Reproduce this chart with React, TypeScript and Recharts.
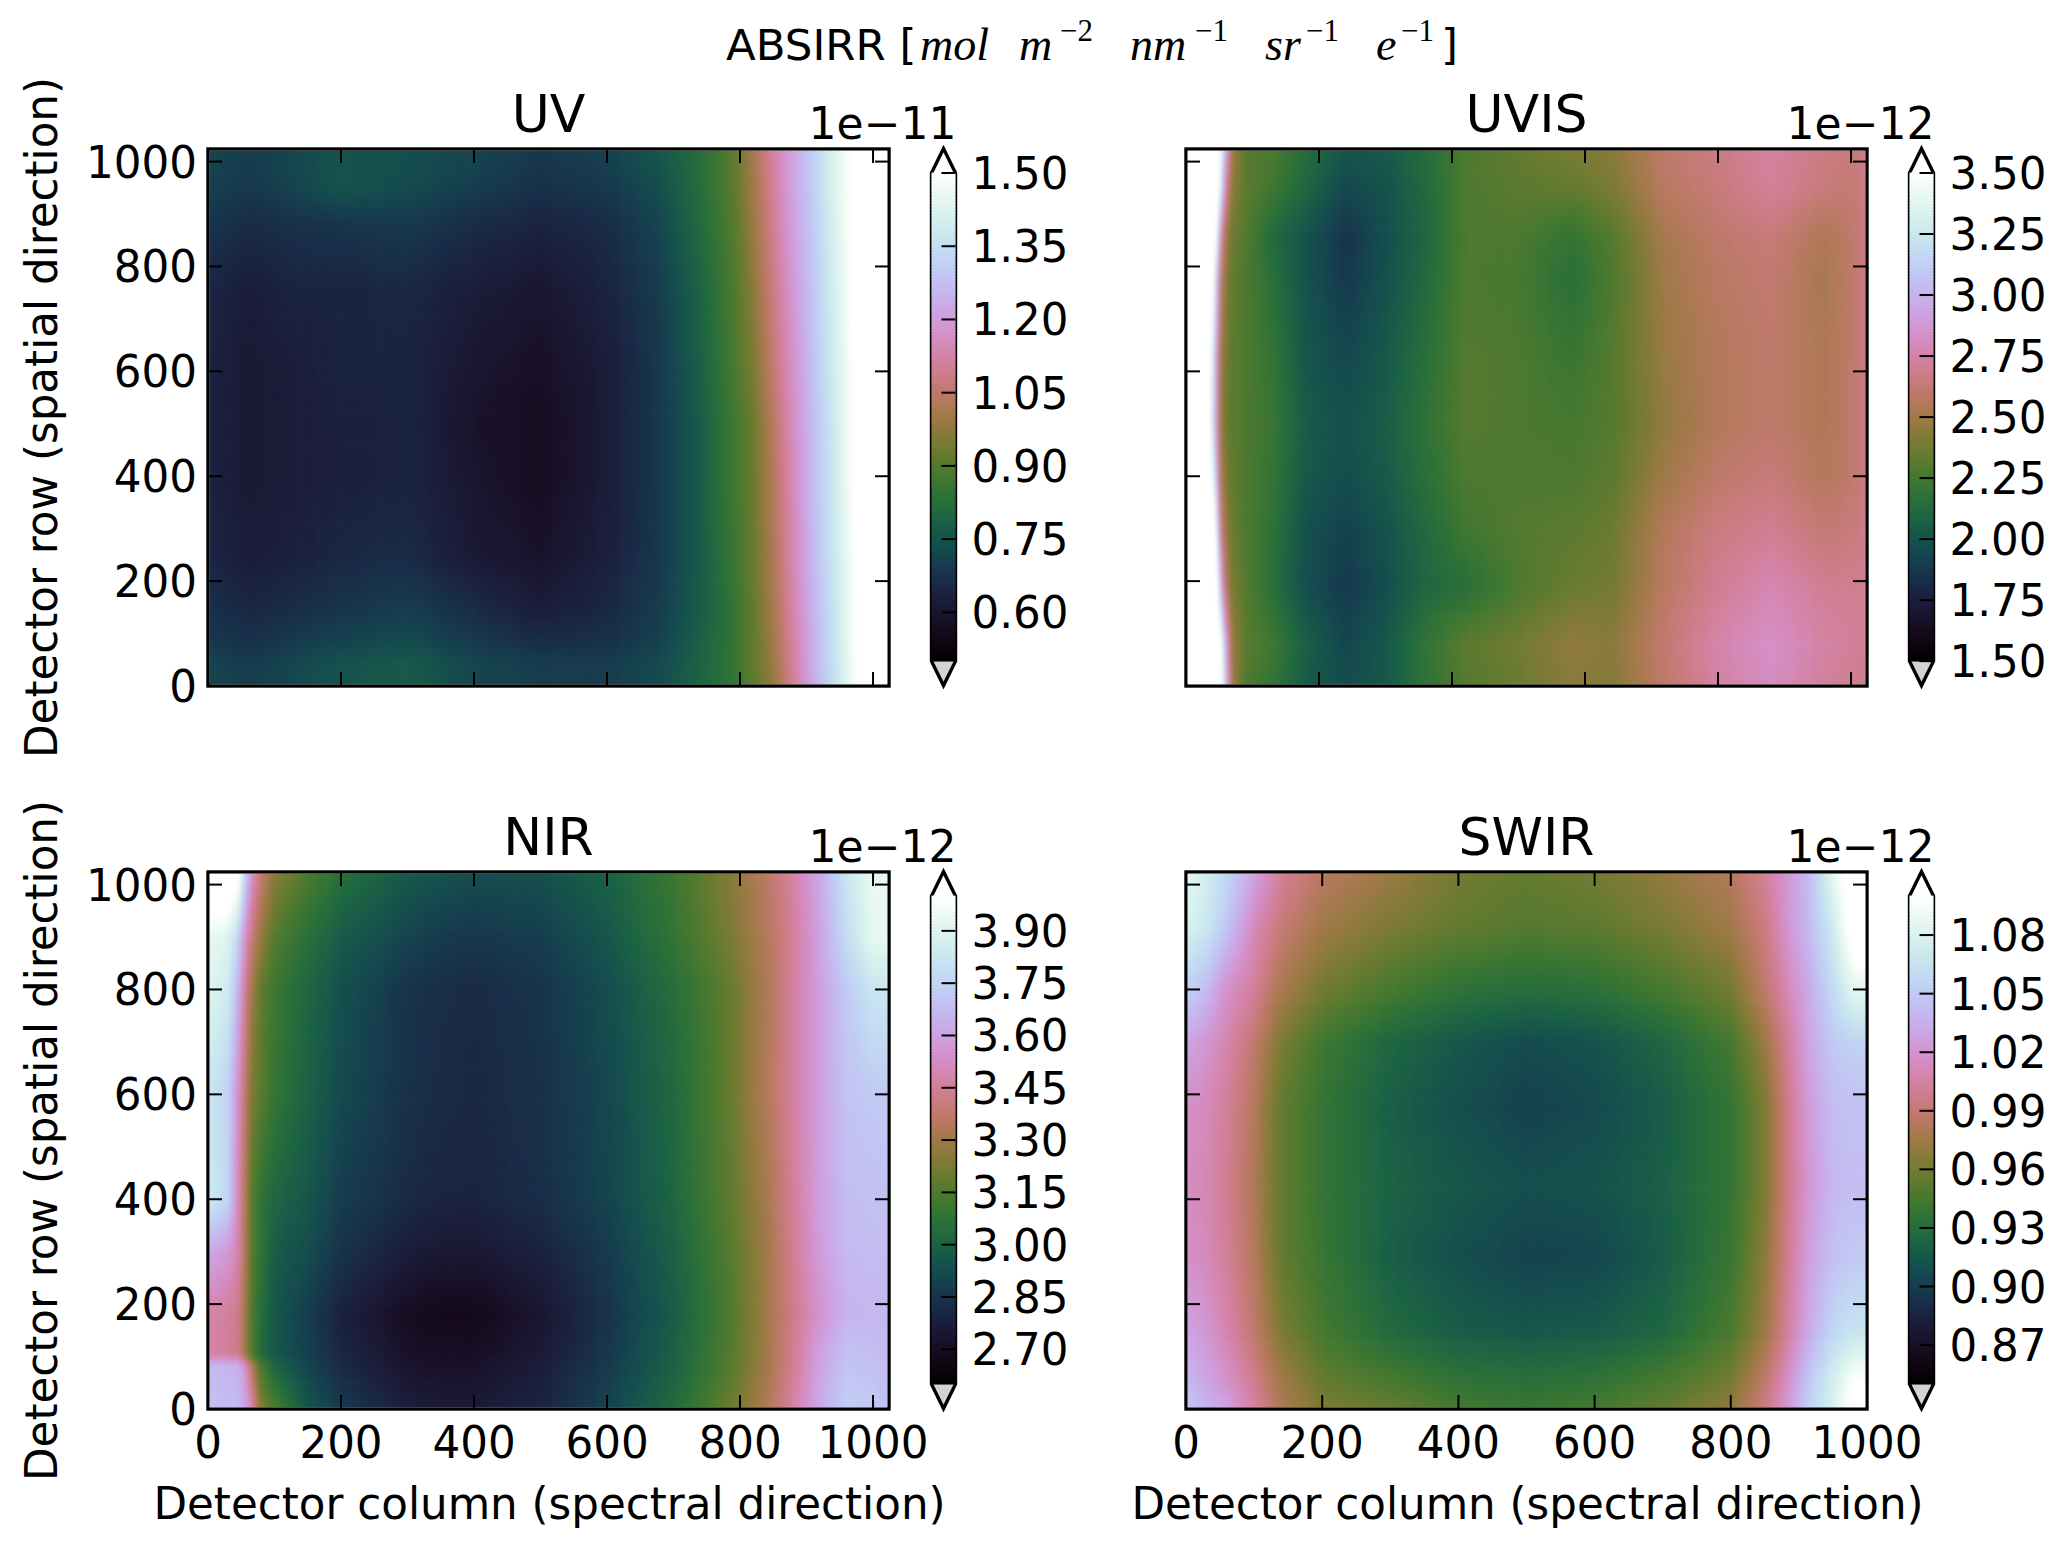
import React from 'react';
import { ScatterChart, Scatter, XAxis, YAxis, ReferenceArea } from 'recharts';

// ---------- data (values x 10^exponent) ----------
const uvColumns = [0, 60, 120, 200, 300, 400, 500, 600, 680, 740, 790, 820, 850, 880, 910, 940, 980, 1024];
const uvRows = [0, 40, 90, 150, 250, 400, 500, 600, 750, 880, 950, 1024];
const uvValues = [
  [.72, .70, .72, .75, .77, .72, .70, .70, .73, .79, .85, .91, .98, 1.10, 1.23, 1.35, 1.52, 1.70],
  [.72, .70, .72, .75, .77, .72, .70, .70, .73, .79, .85, .92, .99, 1.11, 1.24, 1.35, 1.52, 1.70],
  [.69, .67, .69, .71, .73, .69, .66, .67, .71, .78, .85, .92, 1.00, 1.12, 1.24, 1.36, 1.52, 1.70],
  [.67, .65, .66, .68, .70, .66, .62, .65, .70, .77, .85, .92, 1.01, 1.13, 1.25, 1.36, 1.52, 1.70],
  [.65, .62, .63, .65, .66, .61, .59, .63, .69, .77, .86, .93, 1.02, 1.14, 1.26, 1.37, 1.53, 1.70],
  [.64, .61, .62, .63, .64, .60, .57, .62, .69, .77, .87, .93, 1.03, 1.15, 1.27, 1.38, 1.54, 1.70],
  [.64, .61, .62, .63, .64, .59, .57, .62, .69, .77, .87, .93, 1.04, 1.16, 1.27, 1.38, 1.54, 1.70],
  [.64, .61, .62, .64, .64, .60, .58, .62, .69, .78, .88, .95, 1.06, 1.17, 1.28, 1.39, 1.54, 1.70],
  [.65, .62, .64, .64, .65, .62, .60, .64, .70, .79, .89, .97, 1.08, 1.19, 1.29, 1.40, 1.54, 1.70],
  [.68, .66, .67, .68, .69, .66, .64, .66, .72, .81, .90, .99, 1.10, 1.21, 1.30, 1.41, 1.54, 1.68],
  [.71, .69, .71, .75, .73, .70, .67, .69, .74, .82, .91, 1.00, 1.11, 1.22, 1.31, 1.42, 1.54, 1.66],
  [.72, .70, .72, .75, .74, .72, .69, .71, .76, .82, .91, 1.01, 1.12, 1.22, 1.31, 1.42, 1.54, 1.65],
];
const uvTicks = [0.6, 0.75, 0.9, 1.05, 1.2, 1.35, 1.5];

const uvisColumns = [0, 36, 44, 52, 61, 70, 90, 130, 180, 240, 300, 360, 420, 500, 580, 640, 720, 800, 880, 960, 1000, 1024];
const uvisRows = [0, 80, 190, 300, 400, 500, 620, 780, 860, 950, 1024];
const uvisValues = [
  [4.5, 4.5, 4.5, 3.7, 3.0, 2.5, 2.28, 2.2, 2.04, 1.97, 2.02, 2.18, 2.3, 2.36, 2.44, 2.42, 2.6, 2.74, 2.82, 2.72, 2.7, 2.68],
  [4.5, 4.5, 4.5, 3.6, 2.9, 2.48, 2.32, 2.24, 2.06, 1.94, 2.02, 2.2, 2.32, 2.38, 2.46, 2.44, 2.62, 2.76, 2.84, 2.74, 2.72, 2.7],
  [4.5, 4.5, 4.1, 3.0, 2.56, 2.4, 2.3, 2.16, 1.98, 1.88, 1.98, 2.1, 2.16, 2.28, 2.36, 2.38, 2.58, 2.7, 2.78, 2.7, 2.7, 2.7],
  [4.5, 4.1, 3.6, 2.7, 2.46, 2.36, 2.28, 2.18, 1.99, 1.92, 2.0, 2.12, 2.24, 2.3, 2.32, 2.36, 2.56, 2.66, 2.7, 2.62, 2.64, 2.68],
  [4.5, 3.7, 3.2, 2.56, 2.4, 2.34, 2.28, 2.2, 2.03, 1.97, 2.04, 2.16, 2.28, 2.28, 2.28, 2.32, 2.5, 2.6, 2.64, 2.56, 2.6, 2.66],
  [4.5, 3.54, 3.0, 2.5, 2.36, 2.32, 2.28, 2.22, 2.04, 1.99, 2.05, 2.18, 2.3, 2.28, 2.26, 2.3, 2.46, 2.56, 2.6, 2.54, 2.6, 2.66],
  [4.5, 3.6, 3.04, 2.52, 2.38, 2.32, 2.28, 2.2, 2.02, 1.95, 2.03, 2.16, 2.3, 2.28, 2.22, 2.3, 2.48, 2.56, 2.6, 2.54, 2.6, 2.66],
  [4.5, 4.0, 3.3, 2.64, 2.42, 2.34, 2.28, 2.16, 2.0, 1.88, 1.99, 2.12, 2.28, 2.26, 2.16, 2.28, 2.5, 2.58, 2.62, 2.52, 2.6, 2.66],
  [4.5, 4.3, 3.7, 2.84, 2.48, 2.36, 2.3, 2.12, 2.0, 1.86, 1.98, 2.1, 2.28, 2.28, 2.2, 2.3, 2.52, 2.6, 2.64, 2.54, 2.6, 2.66],
  [4.5, 4.5, 4.3, 3.3, 2.7, 2.44, 2.32, 2.24, 2.1, 1.95, 2.0, 2.12, 2.28, 2.32, 2.34, 2.4, 2.58, 2.64, 2.72, 2.64, 2.62, 2.68],
  [4.5, 4.5, 4.5, 3.5, 2.9, 2.5, 2.3, 2.28, 2.14, 2.01, 2.03, 2.14, 2.28, 2.34, 2.4, 2.44, 2.6, 2.66, 2.74, 2.66, 2.64, 2.68],
];
const uvisTicks = [1.5, 1.75, 2.0, 2.25, 2.5, 2.75, 3.0, 3.25, 3.5];

const nirColumns = [0, 30, 45, 56, 66, 78, 100, 150, 200, 300, 350, 400, 500, 600, 700, 780, 840, 880, 920, 960, 1000, 1024];
const nirRows = [0, 85, 105, 180, 300, 400, 600, 800, 900, 1024];
const nirValues = [
  [3.69, 3.68, 3.68, 3.62, 3.51, 3.26, 3.15, 2.96, 2.87, 2.78, 2.76, 2.76, 2.80, 2.90, 3.04, 3.19, 3.33, 3.47, 3.63, 3.74, 3.72, 3.69],
  [3.68, 3.65, 3.65, 3.54, 3.34, 3.16, 3.01, 2.90, 2.82, 2.73, 2.72, 2.72, 2.77, 2.87, 3.00, 3.15, 3.30, 3.44, 3.60, 3.70, 3.69, 3.68],
  [3.48, 3.45, 3.43, 3.30, 3.15, 3.05, 2.96, 2.89, 2.81, 2.72, 2.71, 2.71, 2.76, 2.86, 3.00, 3.15, 3.30, 3.44, 3.60, 3.70, 3.68, 3.68],
  [3.48, 3.45, 3.43, 3.30, 3.15, 3.06, 2.96, 2.88, 2.79, 2.70, 2.68, 2.68, 2.74, 2.85, 2.98, 3.14, 3.30, 3.42, 3.55, 3.65, 3.66, 3.66],
  [3.62, 3.57, 3.48, 3.34, 3.16, 3.09, 2.98, 2.93, 2.85, 2.77, 2.75, 2.75, 2.79, 2.87, 3.00, 3.15, 3.30, 3.44, 3.58, 3.67, 3.68, 3.68],
  [3.85, 3.76, 3.51, 3.34, 3.16, 3.09, 3.02, 2.96, 2.88, 2.82, 2.80, 2.80, 2.83, 2.90, 3.02, 3.17, 3.31, 3.45, 3.59, 3.68, 3.69, 3.69],
  [3.82, 3.75, 3.54, 3.37, 3.23, 3.18, 3.09, 3.00, 2.92, 2.84, 2.82, 2.81, 2.84, 2.91, 3.03, 3.18, 3.34, 3.46, 3.59, 3.70, 3.72, 3.72],
  [3.90, 3.85, 3.65, 3.44, 3.30, 3.19, 3.11, 3.02, 2.94, 2.85, 2.83, 2.82, 2.85, 2.93, 3.05, 3.18, 3.33, 3.46, 3.59, 3.72, 3.82, 3.82],
  [3.93, 3.90, 3.76, 3.54, 3.40, 3.29, 3.16, 3.06, 2.98, 2.90, 2.87, 2.86, 2.88, 2.96, 3.09, 3.22, 3.34, 3.45, 3.60, 3.78, 3.93, 3.93],
  [4.14, 4.14, 4.07, 3.76, 3.54, 3.40, 3.26, 3.15, 3.06, 2.97, 2.95, 2.93, 2.94, 3.00, 3.11, 3.24, 3.36, 3.47, 3.62, 3.82, 3.94, 3.93],
];
const nirTicks = [2.7, 2.85, 3.0, 3.15, 3.3, 3.45, 3.6, 3.75, 3.9];

const swirColumns = [0, 30, 60, 100, 140, 200, 300, 400, 500, 600, 700, 800, 850, 880, 915, 950, 980, 1000];
const swirRows = [0, 60, 150, 290, 430, 580, 700, 800, 920, 1024];
const swirValues = [
  [1.05, 1.04, 1.03, 1.005, .98, .963, .957, .945, .94, .945, .955, .97, .995, 1.02, 1.055, 1.08, 1.1075, 1.1075],
  [1.04, 1.03, 1.018, .998, .975, .955, .945, .935, .932, .935, .945, .96, .988, 1.012, 1.048, 1.075, 1.0975, 1.0975],
  [1.03, 1.022, 1.008, .988, .963, .945, .928, .918, .915, .917, .925, .947, .973, 1.0, 1.033, 1.058, 1.066, 1.066],
  [1.018, 1.012, 1.002, .983, .955, .94, .92, .91, .903, .905, .918, .94, .968, .995, 1.027, 1.045, 1.05, 1.05],
  [1.015, 1.01, 1.0, .98, .955, .938, .922, .915, .91, .912, .92, .938, .963, .993, 1.022, 1.04, 1.043, 1.043],
  [1.018, 1.012, 1.002, .983, .955, .938, .92, .91, .902, .907, .918, .938, .963, .993, 1.025, 1.043, 1.045, 1.045],
  [1.03, 1.022, 1.008, .988, .963, .943, .925, .915, .908, .912, .925, .945, .973, .998, 1.03, 1.05, 1.055, 1.055],
  [1.055, 1.042, 1.018, 1.002, .978, .96, .945, .935, .93, .933, .945, .96, .988, 1.008, 1.033, 1.06, 1.085, 1.085],
  [1.078, 1.07, 1.048, 1.012, .992, .975, .963, .955, .95, .953, .962, .975, .995, 1.018, 1.042, 1.072, 1.1125, 1.125],
  [1.0875, 1.075, 1.058, 1.03, 1.002, .985, .973, .96, .955, .96, .97, .983, 1.002, 1.02, 1.042, 1.0875, 1.1125, 1.125],
];
const swirTicks = [0.87, 0.9, 0.93, 0.96, 0.99, 1.02, 1.05, 1.08];

const axisTicks = [0, 200, 400, 600, 800, 1000];

// ---------- cubehelix colour scale ----------
const helix = (x: number) => {
  const a = (x * (1 - x)) / 2;
  const phi = 2 * Math.PI * (0.5 / 3 - 1.5 * x);
  const c = (p0: number, p1: number) => {
    const v = x + a * (p0 * Math.cos(phi) + p1 * Math.sin(phi));
    return Math.round(Math.min(1, Math.max(0, v)) * 255);
  };
  return `rgb(${c(-0.14861, 1.78277)},${c(-0.29227, -0.90649)},${c(1.97294, 0)})`;
};
const lut = Array.from({ length: 513 }, (_, i) => helix(i / 512));
const colourAt = (f: number) => (f >= 1 ? '#ffffff' : f <= 0 ? '#000000' : lut[Math.round(f * 512)]);

// ---------- layout ----------
const FONT = '"DejaVu Sans", sans-serif';
const TICK_FONT = 43.6;
const AX_W = 681;
const AX_H = 537;
const TICK_LEN = 14;
const SUB_W = 4;
const SUB_H = 6;

type Panel = {
  id: string; title: string; exp: string; cols: number[]; rows: number[]; vals: number[][];
  vmin: number; vmax: number; ticks: number[]; digits: number; xMax: number;
  left: number; top: number; showX: boolean; showY: boolean;
};
const panels: Panel[] = [
  { id: 'uv', title: 'UV', exp: '1e\u221211', cols: uvColumns, rows: uvRows, vals: uvValues, vmin: 0.5, vmax: 1.5, ticks: uvTicks, digits: 2, xMax: 1024, left: 208, top: 149, showX: false, showY: true },
  { id: 'uvis', title: 'UVIS', exp: '1e\u221212', cols: uvisColumns, rows: uvisRows, vals: uvisValues, vmin: 1.5, vmax: 3.5, ticks: uvisTicks, digits: 2, xMax: 1024, left: 1186, top: 149, showX: false, showY: false },
  { id: 'nir', title: 'NIR', exp: '1e\u221212', cols: nirColumns, rows: nirRows, vals: nirValues, vmin: 2.6, vmax: 4.0, ticks: nirTicks, digits: 2, xMax: 1024, left: 208, top: 872, showX: true, showY: true },
  { id: 'swir', title: 'SWIR', exp: '1e\u221212', cols: swirColumns, rows: swirRows, vals: swirValues, vmin: 0.85, vmax: 1.1, ticks: swirTicks, digits: 2, xMax: 1000, left: 1186, top: 872, showX: true, showY: false },
];

const buildTable = (p: Panel) => {
  const out: any[] = [];
  p.rows.forEach((y, j) => p.cols.forEach((x, i) => {
    const hasX = i < p.cols.length - 1;
    const hasY = j < p.rows.length - 1;
    out.push({
      x, y, v: p.vals[j][i],
      nextX: hasX ? p.cols[i + 1] : null,
      nextY: hasY ? p.rows[j + 1] : null,
      vR: hasX ? p.vals[j][i + 1] : null,
      vU: hasY ? p.vals[j + 1][i] : null,
      vD: hasX && hasY ? p.vals[j + 1][i + 1] : null,
    });
  }));
  return out;
};

const cellShape = (p: Panel) => (props: any) => {
  const { cx, cy, payload: d } = props;
  if (d.nextX == null || d.nextY == null) return <g />;
  const yMax = p.rows[p.rows.length - 1];
  const w = (d.nextX - d.x) * (AX_W / p.xMax);
  const h = (d.nextY - d.y) * (AX_H / yMax);
  const n = Math.max(3, Math.ceil(w / SUB_W));
  const m = Math.max(2, Math.ceil(h / SUB_H));
  const span = p.vmax - p.vmin;
  const rects: React.ReactNode[] = [];
  const pad = 10;
  for (let a = 0; a < n; a++) {
    for (let b = 0; b < m; b++) {
      const u = (a + 0.5) / n;
      const t = (b + 0.5) / m;
      const v = d.v * (1 - u) * (1 - t) + d.vR * u * (1 - t) + d.vU * (1 - u) * t + d.vD * u * t;
      let rx = cx + (a * w) / n;
      let rw = w / n + 0.7;
      let ryTop = cy - ((b + 1) * h) / m;
      let rh = h / m + 0.7;
      if (a === 0 && d.x === 0) { rx -= pad; rw += pad; }
      if (a === n - 1 && d.nextX === p.xMax) rw += pad;
      if (b === 0 && d.y === 0) rh += pad;
      if (b === m - 1 && d.nextY === yMax) { ryTop -= pad; rh += pad; }
      rects.push(<rect key={a * 1000 + b} x={rx} y={ryTop} width={rw} height={rh} fill={colourAt((v - p.vmin) / span)} />);
    }
  }
  return <g>{rects}</g>;
};

const XTick = ({ x, y, payload, show }: any) => (
  <g>
    <line x1={x} x2={x} y1={y} y2={y - TICK_LEN} stroke="#000" strokeWidth={2} />
    <line x1={x} x2={x} y1={y - AX_H} y2={y - AX_H + TICK_LEN} stroke="#000" strokeWidth={2} />
    {show && <text x={x} y={y + 49} textAnchor="middle" fontSize={TICK_FONT} fontFamily={FONT} fill="#000">{payload.value}</text>}
  </g>
);
const YTick = ({ x, y, payload, show }: any) => (
  <g>
    <line x1={x} x2={x + TICK_LEN} y1={y} y2={y} stroke="#000" strokeWidth={2} />
    <line x1={x + AX_W} x2={x + AX_W - TICK_LEN} y1={y} y2={y} stroke="#000" strokeWidth={2} />
    {show && <text x={x - 11} y={y + 16} textAnchor="end" fontSize={TICK_FONT} fontFamily={FONT} fill="#000">{payload.value}</text>}
  </g>
);

const FrameShape = ({ x, y, width, height }: any) => (
  <rect x={x} y={y} width={width} height={height} fill="none" stroke="#000" strokeWidth={3.4} />
);

const HeatPanel = ({ p }: { p: Panel }) => {
  const L = p.left - 208;
  const T = p.top - 149;
  const W = 1033;
  const H = 815;
  const mLeft = 208;
  const mTop = 149;
  return (
    <div style={{ position: 'absolute', left: L, top: T, width: W, height: H }}>
      <ScatterChart width={W} height={H} margin={{ left: mLeft - 1, top: mTop, right: W - mLeft - AX_W, bottom: H - mTop - AX_H - 1 }}>
        <defs>
          <filter id={`blur-${p.id}`} x="-5%" y="-5%" width="110%" height="110%" colorInterpolationFilters="sRGB">
            <feGaussianBlur stdDeviation="2.2" />
          </filter>
          <clipPath id={`clip-${p.id}`}>
            <rect x={mLeft + 1.7} y={mTop + 1.7} width={AX_W - 3.4} height={AX_H - 3.4} />
          </clipPath>
        </defs>
        <style>{`.heat-${p.id}{filter:url(#blur-${p.id});clip-path:url(#clip-${p.id});}`}</style>
        <Scatter className={`heat-${p.id}`} data={buildTable(p)} shape={cellShape(p)} isAnimationActive={false} />
        <XAxis type="number" dataKey="x" domain={[0, p.xMax]} ticks={axisTicks} interval={0} height={1} tickSize={0} tickMargin={0} axisLine={false} tickLine={false}
          tick={(t: any) => <XTick {...t} show={p.showX} />} />
        <YAxis type="number" dataKey="y" domain={[0, 1024]} ticks={axisTicks} interval={0} width={1} tickSize={0} tickMargin={0} axisLine={false} tickLine={false}
          tick={(t: any) => <YTick {...t} show={p.showY} />} />
        <ReferenceArea x1={0} x2={p.xMax} y1={0} y2={1024} shape={FrameShape} />
        <text x={mLeft + AX_W / 2} y={mTop - 17} textAnchor="middle" fontSize={52} fontFamily={FONT} fill="#000">{p.title}</text>
        {p.showX && <text x={mLeft + AX_W / 2 + 1} y={mTop + AX_H + 110} textAnchor="middle" fontSize={TICK_FONT} fontFamily={FONT} fill="#000">Detector column (spectral direction)</text>}
        {p.showY && <text transform={`translate(57 ${mTop + AX_H / 2}) rotate(-90)`} textAnchor="middle" fontSize={TICK_FONT} fontFamily={FONT} fill="#000">Detector row (spatial direction)</text>}
      </ScatterChart>
    </div>
  );
};

const ColorbarShape = ({ x, y, width, height }: any) => {
  const ext = 24.4;
  const r = x + width;
  const mx = x + width / 2;
  const outline = `M${x},${y} L${mx},${y - ext} L${r},${y} L${r},${y + height} L${mx},${y + height + ext} L${x},${y + height} Z`;
  return (
    <g>
      <polygon points={`${x},${y} ${mx},${y - ext} ${r},${y}`} fill="#ffffff" />
      <polygon points={`${x},${y + height} ${mx},${y + height + ext} ${r},${y + height}`} fill="#d3d3d3" />
      <path d={outline} fill="none" stroke="#000" strokeWidth={3.4} strokeLinejoin="miter" />
    </g>
  );
};

const LEVELS = 160;
const Colorbar = ({ p }: { p: Panel }) => {
  const W = 230;
  const bodyH = AX_H / 1.1;
  const L = p.left + AX_W + 20;
  const mTop = 60;
  const T = p.top + 24.4 - mTop;
  const H = bodyH + 120;
  const levelData = Array.from({ length: LEVELS }, (_, i) => ({
    x: 0.5,
    y: p.vmin + ((i + 0.5) / LEVELS) * (p.vmax - p.vmin),
    f: (i + 0.5) / LEVELS,
  }));
  const levelShape = (s: any) => (
    <rect x={s.cx - 12} y={s.cy - bodyH / LEVELS / 2 - 0.4} width={24} height={bodyH / LEVELS + 0.8} fill={colourAt(s.payload.f)} />
  );
  return (
    <div style={{ position: 'absolute', left: L, top: T, width: W, height: H }}>
      <ScatterChart width={W} height={H} margin={{ left: 22.5, right: W - 46.5 - 1, top: mTop, bottom: H - mTop - bodyH - 1 }}>
        <Scatter data={levelData} shape={levelShape} isAnimationActive={false} />
        <XAxis type="number" dataKey="x" domain={[0, 1]} height={1} tick={false} axisLine={false} tickLine={false} />
        <YAxis type="number" dataKey="y" orientation="right" domain={[p.vmin, p.vmax]} ticks={p.ticks} interval={0} width={1} tickSize={0} tickMargin={0} axisLine={false} tickLine={false}
          tick={(t: any) => (
            <g>
              <line x1={t.x - 14} x2={t.x} y1={t.y} y2={t.y} stroke="#000" strokeWidth={2} />
              <text x={t.x + 16} y={t.y + 16} fontSize={TICK_FONT} fontFamily={FONT} fill="#000">{Number(t.payload.value).toFixed(p.digits)}</text>
            </g>
          )} />
        <ReferenceArea x1={0} x2={1} y1={p.vmin} y2={p.vmax} shape={ColorbarShape} />
      </ScatterChart>
      <div style={{ position: 'absolute', right: W - 46.5 - 1, top: p.top - T - 50, font: `44px ${FONT}`, lineHeight: '49px', whiteSpace: 'nowrap', color: '#000' }}>{p.exp}</div>
    </div>
  );
};

const MATH = '"Liberation Serif", serif';
const SuperTitle = () => (
  <svg width={2067} height={90} style={{ position: 'absolute', left: 0, top: 0 }}>
    <text y={60} fill="#000">
      <tspan x={726} fontFamily={FONT} fontSize={43.5}>ABSIRR [</tspan>
      <tspan x={920} fontFamily={MATH} fontSize={46} fontStyle="italic">mol</tspan>
      <tspan x={1019} fontFamily={MATH} fontSize={46} fontStyle="italic">m</tspan>
      <tspan x={1060} dy={-19} fontFamily={MATH} fontSize={31}>{'\u22122'}</tspan>
      <tspan x={1130} dy={19} fontFamily={MATH} fontSize={46} fontStyle="italic">nm</tspan>
      <tspan x={1195} dy={-19} fontFamily={MATH} fontSize={31}>{'\u22121'}</tspan>
      <tspan x={1265} dy={19} fontFamily={MATH} fontSize={46} fontStyle="italic">sr</tspan>
      <tspan x={1306} dy={-19} fontFamily={MATH} fontSize={31}>{'\u22121'}</tspan>
      <tspan x={1376} dy={19} fontFamily={MATH} fontSize={46} fontStyle="italic">e</tspan>
      <tspan x={1401} dy={-19} fontFamily={MATH} fontSize={31}>{'\u22121'}</tspan>
      <tspan x={1441} dy={19} fontFamily={FONT} fontSize={43.5}>]</tspan>
    </text>
  </svg>
);

export default function App() {
  return (
    <div style={{ position: 'relative', width: 2067, height: 1551, background: '#fff', overflow: 'hidden' }}>
      <style>{'body{margin:0;background:#fff}'}</style>
      <SuperTitle />
      {panels.map((p) => <HeatPanel key={p.id} p={p} />)}
      {panels.map((p) => <Colorbar key={p.id} p={p} />)}
    </div>
  );
}
